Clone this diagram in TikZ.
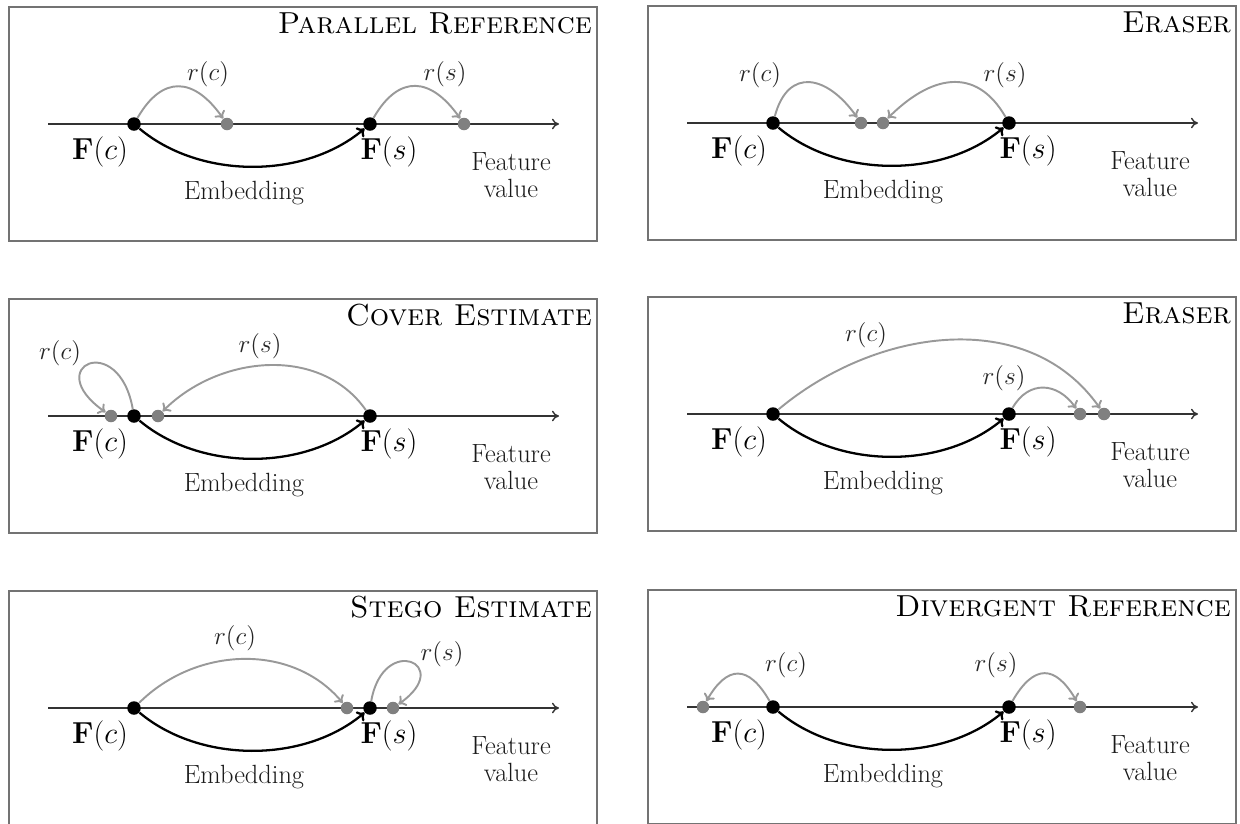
\documentclass[tikz,border=0pt]{standalone}
\usetikzlibrary{arrows.meta,positioning}

\begin{document}
\begin{tikzpicture}[
            x=0.02cm, y=0.02cm,
            panel/.style={
                draw=black!55,
                line width=0.8pt
            },
            feataxis/.style={
                -{To[length=4pt,width=6pt]},
                line width=0.8pt,
                black!80
            },
            valdot/.style={
                circle,
                fill=black,
                inner sep=0pt,
                minimum size=2.7mm
            },
            refdot/.style={
                circle,
                fill=black!50,
                inner sep=0pt,
                minimum size=2.5mm
            },
            embed/.style={
                -{To[length=4pt,width=7pt]},
                line width=1.3pt,
                black
            },
            refarrow/.style={
                -{To[length=4pt,width=7pt]},
                line width=1.1pt,
                black!40
            },
            ptitle/.style={
                anchor=base east,
                font=\fontsize{17.3}{20}\selectfont
            },
            flabel/.style={
                font=\fontsize{16}{18}\selectfont
            },
            rlabel/.style={
                font=\fontsize{14.5}{16}\selectfont,
                text=black!85
            },
            plain/.style={
                align=center,
                font=\fontsize{15}{15.6}\selectfont,
                text=black!90
            }
        ]

\useasboundingbox (0,0) rectangle (1240,-823);

% Common parts of every panel: frame, axis, values, embedding
% \px/\py = top left corner of the frame, \ga/\gb = the two grey dots
            \foreach \px/\py/\ga/\gb/\ttl [count=\p] in {
                9/-7/218/455/Parallel Reference,
                648/-6/213/235/Eraser,
                9/-299/102/149/Cover Estimate,
                648/-297/432/456/Eraser,
                9/-591/338/384/Stego Estimate,
                648/-590/55/432/Divergent Reference} {
                \begin{scope}[shift={(\px,\py)}]
                    \draw[panel] (0,0) rectangle (588,-234);
                    \node[ptitle] (t\p) at (589,-26) {\textsc{\ttl}};

                % feature axis
                    \coordinate (al\p) at (39,-117);
                    \coordinate (ar\p) at (550,-117);
                    \draw[feataxis] (al\p) -- (ar\p);

                % grey (reference) dots and black (cover / stego) dots
                    \node[refdot] (ga\p) at (\ga,-117) {};
                    \node[refdot] (gb\p) at (\gb,-117) {};
                    \node[valdot] (fc\p) at (125,-117) {};
                    \node[valdot] (fs\p) at (361,-117) {};

                    \draw[embed] (fc\p) to[out=-40,in=-140,looseness=0.9] (fs\p);

                    \node[flabel] (lc\p) at (91,-145) {$\mathbf{F}(c)$};
                    \node[flabel] (ls\p) at (380,-145) {$\mathbf{F}(s)$};
                    \node[plain] (em\p) at (235,-186) {Embedding};
                    \node[plain] (fv\p) at (502,-168) {Feature\\value};
                \end{scope}
            }

% Parallel reference
            \draw[refarrow] (fc1) to[out=60,in=125,looseness=1.5] (ga1);
            \draw[refarrow] (fs1) to[out=60,in=125,looseness=1.5] (gb1);
            \node[rlabel] (rc1) at (208,-74) {$r(c)$};
            \node[rlabel] (rs1) at (445,-74) {$r(s)$};

% Eraser (converging)
            \draw[refarrow] (fc2) to[out=75,in=125,looseness=1.6] (ga2);
            \draw[refarrow] (fs2) to[out=120,in=45,looseness=1.3] (gb2);
            \node[rlabel] (rc2) at (760,-75) {$r(c)$};
            \node[rlabel] (rs2) at (1005,-75) {$r(s)$};

% Cover estimate
            \draw[refarrow] (fc3) to[out=100,in=145,looseness=7.5] (ga3);
            \draw[refarrow] (fs3) to[out=125,in=45,looseness=1] (gb3);
            \node[rlabel] (rc3) at (60,-353) {$r(c)$};
            \node[rlabel] (rs3) at (260,-346) {$r(s)$};

% Eraser (overshooting)
            \draw[refarrow] (fc4) to[out=40,in=125,looseness=1] (gb4);
            \draw[refarrow] (fs4) to[out=60,in=125,looseness=1.3] (ga4);
            \node[rlabel] (rc4) at (866,-335) {$r(c)$};
            \node[rlabel] (rs4) at (1004,-378) {$r(s)$};

% Stego estimate
            \draw[refarrow] (fc5) to[out=45,in=130,looseness=1] (ga5);
            \draw[refarrow] (fs5) to[out=80,in=35,looseness=6.5] (gb5);
            \node[rlabel] (rc5) at (235,-638) {$r(c)$};
            \node[rlabel] (rs5) at (442,-654) {$r(s)$};

% Divergent reference
            \draw[refarrow] (fc6) to[out=120,in=60,looseness=1.7] (ga6);
            \draw[refarrow] (fs6) to[out=60,in=120,looseness=1.7] (gb6);
            \node[rlabel] (rc6) at (786,-665) {$r(c)$};
            \node[rlabel] (rs6) at (996,-665) {$r(s)$};

\end{tikzpicture}
\end{document}
